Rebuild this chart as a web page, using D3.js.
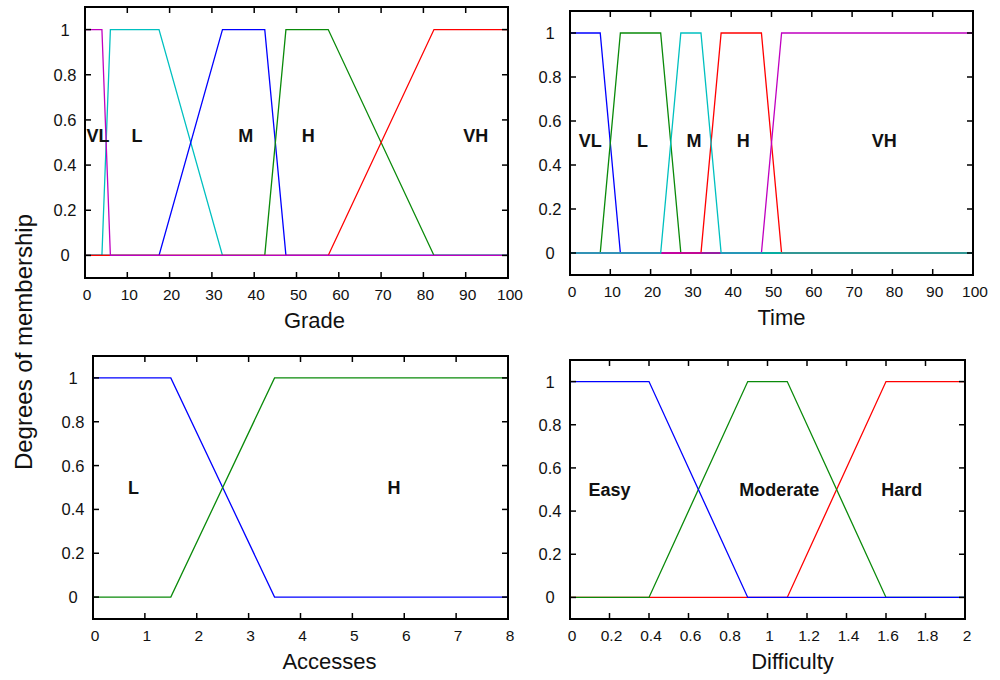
<!DOCTYPE html>
<html>
<head>
<meta charset="utf-8">
<script src="https://cdn.jsdelivr.net/npm/d3@7"></script>
<style>
  body { margin: 0; background: #fff; }
  text { font-family: "Liberation Sans", Arial, sans-serif; fill: #111; }
</style>
</head>
<body>
<div id="chart"></div>
<script>
/* global d3 */

// Grade sets: [a, b, c, d] trapezoid corners
const gradeNames = ['VL', 'L', 'M', 'H', 'VH']
const gradeSets = [[0, 0, 4, 6], [4, 6, 17.5, 32.5], [17.5, 32.5, 42.5, 47.5], [42.5, 47.5, 57.5, 82.5], [57.5, 82.5, 100, 100]]
const gradeLabelX = [3.1, 12.3, 38, 52.8, 92.4]

// Time sets
const timeNames = ['VL', 'L', 'M', 'H', 'VH']
const timeSets = [[0, 0, 7.5, 12.5], [7.5, 12.5, 22.5, 27.5], [22.5, 27.5, 32.5, 37.5], [32.5, 37.5, 47.5, 52.5], [47.5, 52.5, 100, 100]]
const timeLabelX = [5, 18, 30.8, 43, 78]

// Accesses sets
const accessNames = ['L', 'H']
const accessSets = [[0, 0, 1.5, 3.5], [1.5, 3.5, 8, 8]]
const accessLabelX = [0.78, 5.8]

// Difficulty sets
const diffNames = ['Easy', 'Moderate', 'Hard']
const diffSets = [[0, 0, 0.4, 0.9], [0.4, 0.9, 1.1, 1.6], [1.1, 1.6, 2, 2]]
const diffLabelX = [0.2, 1.06, 1.68]

const yTicks = [0, 0.2, 0.4, 0.6, 0.8, 1]

const width = 1000,
      height = 680

let svg = d3.select('#chart')
  .append('svg')
  .attr('width', width)
  .attr('height', height)

// trapezoid -> list of points over the whole domain
let trap = (s, max) => {
  let pts = []
  if (s[0] === s[1]) pts.push([0, 1])
  else { pts.push([0, 0]); pts.push([s[0], 0]); pts.push([s[1], 1]) }
  if (s[2] === s[3]) pts.push([max, 1])
  else { pts.push([s[2], 1]); pts.push([s[3], 0]); pts.push([max, 0]) }
  return pts
}

let drawPanel = (p) => {
  let x = d3.scaleLinear().domain([0, p.max]).range([p.left, p.right])
  let y = d3.scaleLinear().domain([-0.1, 1.1]).range([p.bottom, p.top])
  let g = svg.append('g')

  let line = d3.line()
    .x(d => x(d[0]))
    .y(d => y(d[1]))

  p.order.forEach(i => {
    g.append('path')
      .attr('d', line(trap(p.sets[i], p.max)))
      .attr('fill', 'none')
      .attr('stroke', p.colors[i])
      .attr('stroke-width', 1.3)
  })

  // ticks, mirrored on all sides, pointing inward
  let xt = d3.range(0, p.max + p.step / 2, p.step)
  xt.forEach(v => {
    g.append('line').attr('x1', x(v)).attr('x2', x(v)).attr('y1', p.bottom).attr('y2', p.bottom - 6).attr('stroke', '#000').attr('stroke-width', 1.5)
    g.append('line').attr('x1', x(v)).attr('x2', x(v)).attr('y1', p.top).attr('y2', p.top + 6).attr('stroke', '#000').attr('stroke-width', 1.5)
    g.append('text')
      .attr('x', x(v) + 2)
      .attr('y', p.bottom + 22)
      .attr('text-anchor', 'middle')
      .attr('font-size', 15.5)
      .text(d3.format('~g')(+v.toFixed(2)))
  })
  yTicks.forEach(v => {
    g.append('line').attr('x1', p.left).attr('x2', p.left + 6).attr('y1', y(v)).attr('y2', y(v)).attr('stroke', '#000').attr('stroke-width', 1.5)
    g.append('line').attr('x1', p.right).attr('x2', p.right - 6).attr('y1', y(v)).attr('y2', y(v)).attr('stroke', '#000').attr('stroke-width', 1.5)
    g.append('text')
      .attr('x', p.left - 20)
      .attr('y', y(v) + 6)
      .attr('text-anchor', 'middle')
      .attr('font-size', 16.5)
      .text(d3.format('~g')(v))
  })

  g.append('rect')
    .attr('x', p.left).attr('y', p.top)
    .attr('width', p.right - p.left).attr('height', p.bottom - p.top)
    .attr('fill', 'none').attr('stroke', '#000').attr('stroke-width', 2)

  p.names.forEach((n, i) => {
    g.append('text')
      .attr('x', x(p.labelX[i]))
      .attr('y', y(p.labelY) + 6)
      .attr('text-anchor', 'middle')
      .attr('font-size', 18)
      .attr('font-weight', 'bold')
      .text(n)
  })

  g.append('text')
    .attr('x', (p.left + p.right) / 2 + p.titleDx)
    .attr('y', p.bottom + 50)
    .attr('text-anchor', 'middle')
    .attr('font-size', 22)
    .text(p.title)
}

drawPanel({ left: 85, right: 508, top: 7, bottom: 278, max: 100, step: 10,
  sets: gradeSets, names: gradeNames, labelX: gradeLabelX, labelY: 0.53,
  colors: ['#c000c0', '#00c0c0', '#0000ff', '#0a8a0a', '#ff0000'],
  order: [1, 2, 3, 4, 0], title: 'Grade', titleDx: 18 })

drawPanel({ left: 570, right: 973, top: 11, bottom: 275, max: 100, step: 10,
  sets: timeSets, names: timeNames, labelX: timeLabelX, labelY: 0.51,
  colors: ['#0000ff', '#0a8a0a', '#00c0c0', '#ff0000', '#c000c0'],
  order: [0, 1, 3, 4, 2], title: 'Time', titleDx: 10 })

drawPanel({ left: 93, right: 508, top: 356, bottom: 619, max: 8, step: 1,
  sets: accessSets, names: accessNames, labelX: accessLabelX, labelY: 0.5,
  colors: ['#0000ff', '#0a8a0a'],
  order: [0, 1], title: 'Accesses', titleDx: 29 })

drawPanel({ left: 570, right: 965, top: 360, bottom: 619, max: 2, step: 0.2,
  sets: diffSets, names: diffNames, labelX: diffLabelX, labelY: 0.5,
  colors: ['#0000ff', '#0a8a0a', '#ff0000'],
  order: [2, 1, 0], title: 'Difficulty', titleDx: 25 })

svg.append('text')
  .attr('transform', 'translate(32,342) rotate(-90)')
  .attr('text-anchor', 'middle')
  .attr('font-size', 24)
  .text('Degrees of membership')
</script>
</body>
</html>
